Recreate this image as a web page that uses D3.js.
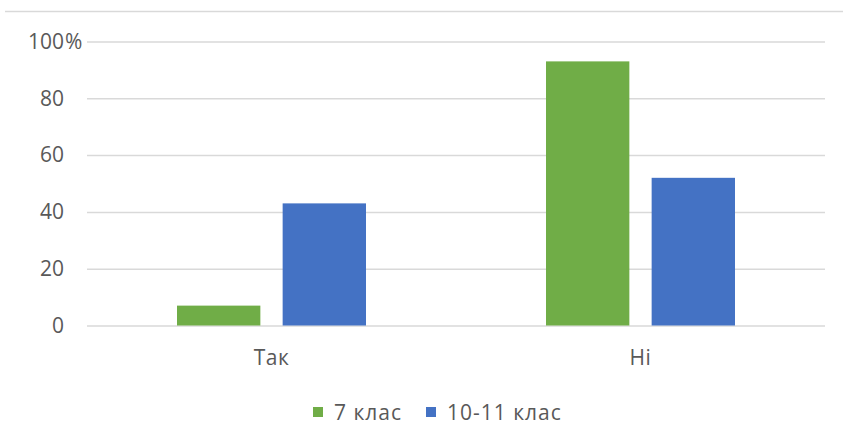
<!DOCTYPE html>
<html>
<head>
<meta charset="utf-8">
<script src="https://cdn.jsdelivr.net/npm/d3@7"></script>
<style>
	body { margin: 0; background: #fff; }
	text { font-family: 'Open Sans', sans-serif; fill: #595959; }
</style>
</head>
<body>
<div id="viz"></div>
<script>
const categories = ['Так', 'Ні'];
const seriesNames = ['7 клас', '10-11 клас'];
const grade7 = [7, 93];
const grade10_11 = [43, 52];
const yTicks = [0, 20, 40, 60, 80, 100];

const COLORS = ['#70AD47', '#4472C4'];
const WIDTH = 843, HEIGHT = 430;
const MARGIN = { left: 87, right: 18, top: 41.5, bottom: 104.5 };
const CHART_WIDTH = WIDTH - MARGIN.left - MARGIN.right;
const CHART_HEIGHT = HEIGHT - MARGIN.top - MARGIN.bottom;
const FONT_SIZE = 21;

const svg = d3.select('#viz').append('svg')
	.attr('width', WIDTH)
	.attr('height', HEIGHT);

// outer frame line at the top
svg.append('line')
	.attr('x1', 5).attr('x2', WIDTH)
	.attr('y1', 11.5).attr('y2', 11.5)
	.attr('stroke', '#D9D9D9')
	.attr('stroke-width', 1.5);

const container = svg.append('g')
	.attr('transform', 'translate(' + MARGIN.left + ',' + MARGIN.top + ')');

const xScale = d3.scaleBand()
	.domain(categories)
	.range([0, CHART_WIDTH]);

const xInner = d3.scaleBand()
	.domain(seriesNames)
	.range([0, xScale.bandwidth()])
	.paddingInner(0.211)
	.paddingOuter(0.852);

const yScale = d3.scaleLinear()
	.domain([0, 100])
	.range([CHART_HEIGHT, 0]);

// gridlines + y labels
const yAxis = container.append('g')
	.attr('class', 'y axis')
	.call(d3.axisLeft(yScale).tickValues(yTicks).tickSize(-CHART_WIDTH).tickPadding(23));

yAxis.select('.domain').remove();
yAxis.selectAll('.tick line')
	.attr('stroke', '#D9D9D9')
	.attr('stroke-width', 1.5);
yAxis.selectAll('.tick text')
	.attr('font-size', FONT_SIZE)
	.attr('fill', '#595959')
	.style('font-family', "'Open Sans', sans-serif");

yAxis.selectAll('.tick').filter((d) => d === 100)
	.append('text')
	.attr('x', -22)
	.attr('dy', '0.32em')
	.attr('text-anchor', 'start')
	.attr('font-size', FONT_SIZE)
	.text('%');

const data = [grade7, grade10_11];

const group = container.selectAll('.group')
	.data(categories)
	.enter()
	.append('g')
	.attr('class', 'group')
	.attr('transform', (d) => 'translate(' + xScale(d) + ',0)');

group.selectAll('.bar')
	.data((d, i) => seriesNames.map((s, j) => ({ series: s, value: data[j][i], j: j })))
	.enter()
	.append('rect')
	.attr('class', 'bar')
	.attr('x', (d) => xInner(d.series))
	.attr('width', xInner.bandwidth())
	.attr('y', (d) => yScale(d.value))
	.attr('height', (d) => CHART_HEIGHT - yScale(d.value))
	.attr('fill', (d) => COLORS[d.j]);

// category labels
container.append('g')
	.selectAll('text')
	.data(categories)
	.enter()
	.append('text')
	.attr('x', (d) => xScale(d) + xScale.bandwidth() / 2)
	.attr('y', CHART_HEIGHT + 39)
	.attr('text-anchor', 'middle')
	.attr('font-size', FONT_SIZE)
	.attr('letter-spacing', 0.5)
	.text((d) => d);

// legend
const legendX = [313, 426];
const legend = svg.append('g').attr('class', 'legend');
const item = legend.selectAll('.item')
	.data(seriesNames)
	.enter()
	.append('g')
	.attr('transform', (d, i) => 'translate(' + legendX[i] + ',407)');

item.append('rect')
	.attr('width', 10)
	.attr('height', 10)
	.attr('fill', (d, i) => COLORS[i]);

item.append('text')
	.attr('x', 21)
	.attr('y', 12.5)
	.attr('font-size', FONT_SIZE)
	.attr('letter-spacing', 1)
	.text((d) => d);
</script>
</body>
</html>
